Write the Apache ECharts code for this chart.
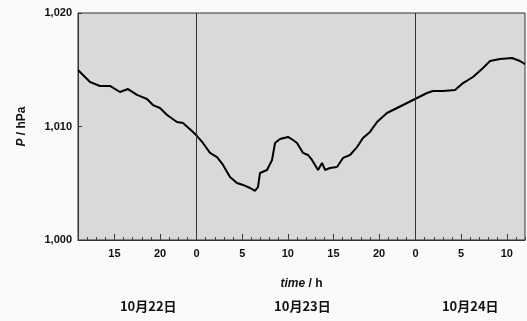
<!DOCTYPE html>
<html>
<head>
<meta charset="utf-8">
<script src="https://cdn.jsdelivr.net/npm/echarts@6/dist/echarts.min.js"></script>
<style>
html,body{margin:0;padding:0;background:#fafafa;}
#c{width:527px;height:321px;}
</style>
</head>
<body>
<div id="c"></div>
<script>
// hours counted from 10月22日 0h
const hours = [11.0,11.55,12.32,13.41,14.51,15.60,16.48,17.47,18.56,19.22,19.99,20.76,21.85,22.51,23.61,24.05,24.70,25.47,26.24,26.90,27.66,28.43,29.09,29.86,30.40,30.73,30.95,31.72,32.27,32.60,33.14,34.02,34.57,35.01,35.67,36.21,36.65,37.31,37.75,38.08,38.63,39.39,40.05,40.82,41.59,42.24,43.01,43.78,44.87,45.97,47.07,48.16,49.26,49.92,51.01,52.33,53.21,54.30,55.40,56.17,57.26,58.58,59.45,60.0];
const pressure = [1014.98,1014.54,1013.92,1013.57,1013.57,1013.04,1013.30,1012.78,1012.42,1011.89,1011.63,1011.01,1010.40,1010.31,1009.52,1009.16,1008.55,1007.67,1007.31,1006.61,1005.55,1005.02,1004.85,1004.58,1004.32,1004.67,1005.90,1006.17,1007.05,1008.55,1008.90,1009.08,1008.81,1008.55,1007.67,1007.49,1007.05,1006.17,1006.79,1006.17,1006.34,1006.43,1007.23,1007.49,1008.19,1008.99,1009.52,1010.40,1011.19,1011.63,1012.07,1012.51,1012.95,1013.13,1013.13,1013.22,1013.83,1014.36,1015.15,1015.77,1015.95,1016.04,1015.77,1015.5];
const majorTicks = [15,20,24,29,34,39,44,48,53,58];
const dayBoundaries = [24,48];
const dayLabelPos = [18.7,35.6,54];
const dayLabels = ['10月22日','10月23日','10月24日'];
const yTicks = [1000,1010,1020];

const chart = echarts.init(document.getElementById('c'));
const font = 'Liberation Sans, Arial, sans-serif';
chart.setOption({
  animation:false,
  grid:{left:78,right:2,top:13,bottom:81,show:true,backgroundColor:'#d9d9d9',borderColor:'#333',borderWidth:1},
  xAxis:[
    {type:'value',min:11,max:60,position:'bottom',
     axisLine:{show:true,lineStyle:{color:'#333'}},
     axisTick:{show:true,inside:true,length:6,customValues:majorTicks,lineStyle:{color:'#333'}},
     axisLabel:{customValues:majorTicks,formatter:v=>String(Math.round(v)%24),fontFamily:font,fontWeight:'bold',fontSize:11,color:'#111',margin:8},
     splitLine:{show:false},
     name:'{i|time} / h',nameLocation:'middle',nameGap:38,
     nameTextStyle:{fontFamily:font,fontWeight:'bold',fontSize:12,color:'#111',
       rich:{i:{fontStyle:'italic',fontFamily:font,fontWeight:'bold',fontSize:12,color:'#111'}}}},
    {type:'value',min:11,max:60,interval:1,position:'bottom',
     axisLine:{show:false},axisLabel:{show:false},splitLine:{show:false},
     axisTick:{show:true,inside:true,length:3,lineStyle:{color:'#444'}}},
    {type:'value',min:11,max:60,position:'bottom',offset:52,
     axisLine:{show:false},axisTick:{show:false},splitLine:{show:false},
     axisLabel:{customValues:dayLabelPos,formatter:v=>dayLabels[dayLabelPos.indexOf(v)]||'',
       fontFamily:'Noto Sans CJK SC, sans-serif',fontWeight:'bold',fontSize:13,color:'#111'}}
  ],
  yAxis:{type:'value',min:1000,max:1020,interval:10,
    axisLine:{show:true,lineStyle:{color:'#333'}},
    axisTick:{show:true,inside:true,length:4,lineStyle:{color:'#333'}},
    axisLabel:{fontFamily:font,fontWeight:'bold',fontSize:11,color:'#111',margin:6,
      customValues:yTicks},
    splitLine:{show:false},
    name:'{i|P} / hPa',nameLocation:'middle',nameGap:50,nameRotate:90,
    nameTextStyle:{fontFamily:font,fontWeight:'bold',fontSize:12,color:'#111',
      rich:{i:{fontStyle:'italic',fontFamily:font,fontWeight:'bold',fontSize:12,color:'#111'}}}},
  series:[{type:'line',xAxisIndex:0,data:hours.map((h,i)=>[h,pressure[i]]),
    showSymbol:false,lineStyle:{color:'#000',width:2},
    markLine:{silent:true,symbol:'none',label:{show:false},
      lineStyle:{color:'#333',width:1,type:'solid'},
      data:dayBoundaries.map(d=>({xAxis:d}))}}]
});
</script>
</body>
</html>
